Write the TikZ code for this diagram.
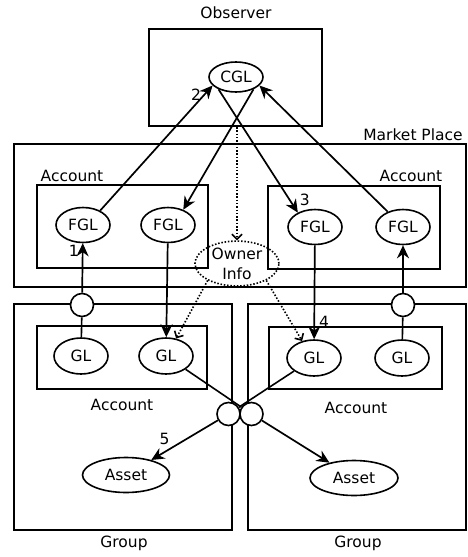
\documentclass[tikz,border=0pt]{standalone}
\usepackage{fontspec}
\setmainfont{DejaVu Sans}
\usetikzlibrary{arrows.meta,shapes.geometric}
\begin{document}
\begin{tikzpicture}[
  x=1pt, y=-1pt,
  frame/.style={draw, line width=2pt, inner sep=0pt},
  gl/.style={ellipse, draw, line width=1.6pt, minimum width=54pt, minimum height=35pt, inner sep=0pt},
  port/.style={circle, draw, fill=white, line width=1.6pt, minimum size=23pt, inner sep=0pt},
  link/.style={-{Stealth[length=13pt,width=12pt]}, line width=1.7pt},
  info/.style={-{Straight Barb[length=5pt,width=10pt]}, line width=1.6pt, dash pattern=on 1.5pt off 1.8pt},
  font=\fontsize{15.5}{20}\selectfont
]
\useasboundingbox (0,0) rectangle (467,557);

\node[frame, minimum width=173pt, minimum height=97pt] (observer) at (235.5,77.5) {};
\node[frame, minimum width=452pt, minimum height=143pt] (market) at (240,215.5) {};
\node[frame, minimum width=171pt, minimum height=83pt] (accL) at (122.5,226.5) {};
\node[frame, minimum width=172pt, minimum height=83pt] (accR) at (354,227.5) {};
\node[frame, minimum width=218pt, minimum height=226pt] (groupL) at (123,417) {};
\node[frame, minimum width=218pt, minimum height=226pt] (groupR) at (357,417) {};
\node[frame, minimum width=170pt, minimum height=63pt] (glaccL) at (122,357.5) {};
\node[frame, minimum width=173pt, minimum height=62pt] (glaccR) at (355.5,358) {};

\node (obslabel) at (236,13) {Observer};
\node (mplabel) at (413,135) {Market Place};
\node (accLlabel) at (72,176) {Account};
\node (accRlabel) at (411,176) {Account};
\node (glaccLlabel) at (122,405) {Account};
\node (glaccRlabel) at (356,408) {Account};
\node (groupLlabel) at (124,543) {Group};
\node (groupRlabel) at (358,543) {Group};

\node[gl, minimum height=30pt] (cgl) at (236,77) {CGL};
\node[gl] (fglA) at (83,225) {FGL};
\node[gl] (fglB) at (168,225) {FGL};
\node[gl] (fglC) at (315,227) {FGL};
\node[gl] (fglD) at (403,227) {FGL};
\node[gl, dash pattern=on 1.5pt off 1.8pt, minimum width=84pt, minimum height=42pt, align=center] (owner) at (237,263.5) {Owner\\Info};
\node[gl, minimum height=36pt] (glA) at (81,356) {GL};
\node[gl, minimum height=36pt] (glB) at (166,356) {GL};
\node[gl, minimum height=36pt] (glC) at (314,358) {GL};
\node[gl, minimum height=36pt] (glD) at (402,358) {GL};
\node[gl, minimum width=87pt] (assetL) at (126,475) {Asset};
\node[gl, minimum width=88pt] (assetR) at (354,478) {Asset};

\node[port] (portL) at (82,305) {};
\node[port] (portR) at (403,305) {};
\node[port] (portM1) at (228.5,414) {};
\node[port] (portM2) at (251.5,414) {};

\draw[link] (portL) -- node[pos=0.85, left, inner sep=3pt] {1} (fglA);
\draw[line width=1.6pt] (portL) -- (glA);
\draw[link] (fglA.40) -- node[pos=0.93, left, inner sep=3pt] {2} (cgl.200);
\draw[link] (cgl.-35) -- (fglB.45);
\draw[link] (cgl.-145) -- node[pos=0.9, right, inner sep=9pt] {3} (fglC.140);
\draw[link] (fglD.135) -- (cgl.-20);
\draw[link] (fglB) -- (glB);
\draw[link] (fglC) -- node[pos=0.82, right, inner sep=4pt] {4} (glC);
\draw[link] (portR) -- (fglD);
\draw[line width=1.6pt] (portR) -- (glD);
\draw[info] (observer.south -| owner.north) -- (owner.north);
\draw[info] (owner.210) -- (glB.60);
\draw[info] (owner.-30) -- (glC.125);
\draw[line width=1.6pt] (glB) -- (portM2);
\draw[line width=1.6pt] (glC) -- (portM1);
\draw[link] (portM1) -- node[pos=0.8, above, inner sep=6pt] {5} (assetL);
\draw[link] (portM2) -- (assetR);
\end{tikzpicture}
\end{document}
